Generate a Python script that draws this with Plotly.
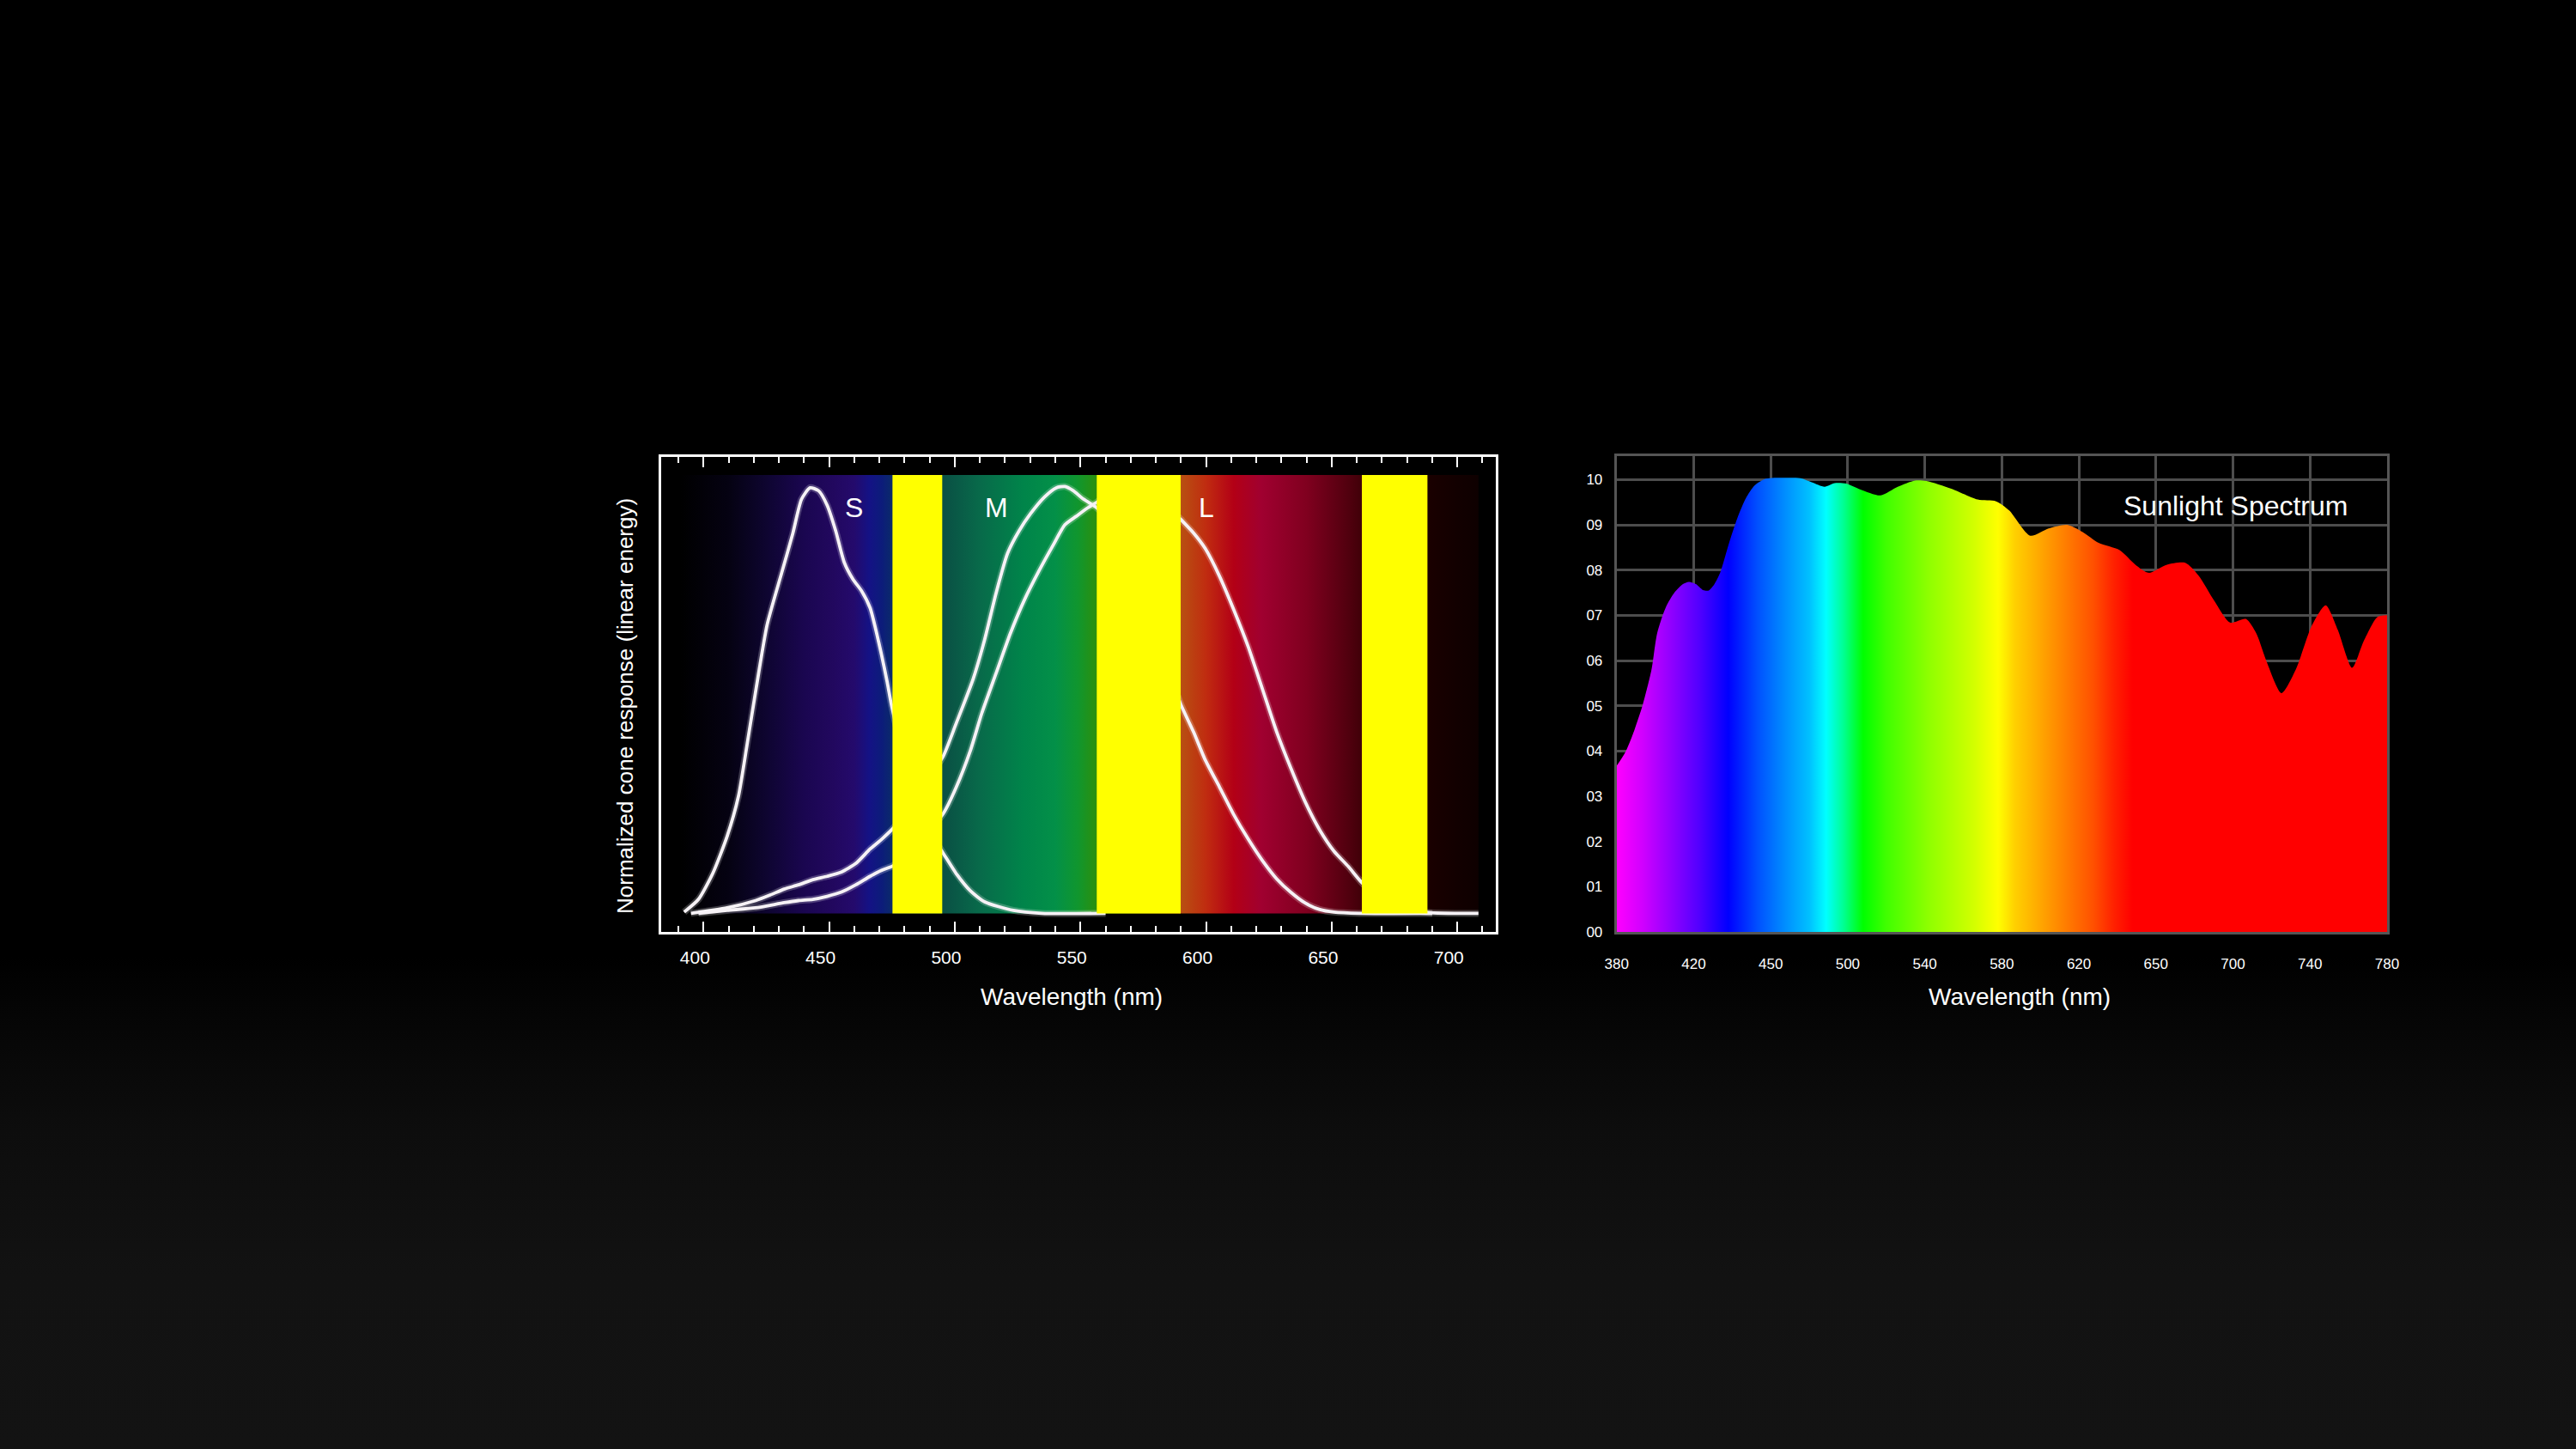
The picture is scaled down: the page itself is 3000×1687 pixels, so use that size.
import plotly.graph_objects as go

# ---------------- Left chart: normalized cone responses ----------------
s_nm = [392.3, 398, 403.7, 409.4, 413.9, 417.3, 421, 425.3, 431, 435.5, 439, 442.4, 445.8,
        449.2, 452.6, 456, 459.5, 462.9, 466.3, 469.7, 473.1, 474.8, 480, 485, 490, 495.4,
        500.5, 506.2, 511.9, 523.3, 534.6, 560]
s_resp = [0.003, 0.033, 0.094, 0.181, 0.275, 0.395, 0.53, 0.677, 0.797, 0.891, 0.972, 0.999, 0.992,
          0.958, 0.898, 0.824, 0.784, 0.757, 0.717, 0.637, 0.543, 0.489, 0.36, 0.26, 0.19, 0.141,
          0.094, 0.053, 0.027, 0.007, 0.0, 0.0]

m_nm = [395, 409.4, 420.7, 426.5, 432.1, 437.8, 443.5, 449.2, 454.9, 460.6, 466.3, 470.9, 475.2,
        480, 485, 490, 495.4, 500.5, 507.3, 511.9, 516.4, 521, 525.6, 530.1, 535.8, 540.4,
        543.8, 547.2, 550.6, 554, 556.5, 560, 565, 570, 575, 580, 585, 589.9, 595, 599.6, 605.3,
        611, 616.7, 622.4, 628.1, 633.8, 639.5, 645.2, 650.9, 661, 690]
m_resp = [0.0, 0.013, 0.030, 0.043, 0.057, 0.067, 0.079, 0.087, 0.097, 0.117, 0.151, 0.174, 0.198,
          0.23, 0.27, 0.32, 0.369, 0.445, 0.55, 0.643, 0.751, 0.845, 0.898, 0.938, 0.978, 0.999,
          1.002, 0.992, 0.975, 0.962, 0.952, 0.93, 0.88, 0.81, 0.73, 0.65, 0.57, 0.491, 0.426, 0.361, 0.297,
          0.232, 0.175, 0.124, 0.081, 0.049, 0.024, 0.009, 0.003, 0.0, 0.0]

l_nm = [398, 409.4, 420.7, 432.1, 437.8, 443.5, 449.2, 454.9, 460.6, 466.3, 470.9, 475.2, 480, 485,
        490, 495.4, 500.5, 506.2, 510.7, 516.4, 522.1, 527.8, 533.5, 539.2, 543.8, 548.3, 552.9, 556.5,
        560, 565, 570, 575, 580, 585, 589.9, 595, 599.6, 605.3, 611, 616.7, 622.4, 628.1, 633.8, 639.5,
        645.2, 650.9, 656.6, 661.7, 668, 675, 688.4, 708.4]
l_resp = [0.0, 0.007, 0.013, 0.025, 0.030, 0.033, 0.040, 0.050, 0.067, 0.087, 0.101, 0.111, 0.13, 0.16,
          0.195, 0.234, 0.295, 0.382, 0.469, 0.563, 0.657, 0.737, 0.804, 0.865, 0.912, 0.932, 0.952, 0.965,
          0.98, 0.995, 1.0, 0.995, 0.98, 0.955, 0.925, 0.893, 0.857, 0.792, 0.713, 0.627, 0.527, 0.426, 0.340,
          0.261, 0.196, 0.146, 0.110, 0.074, 0.04, 0.018, 0.002, 0.0]

cone_labels = ["S", "M", "L"]
cone_label_nm = [460.0, 516.5, 600.1]
yellow_bands_nm = [(475.2, 495.0), (556.5, 589.9), (662.0, 688.1)]
band_range_nm = (391.0, 708.4)
cone_tick_start, cone_tick_step = 400, 50

# ---------------- Right chart: sunlight spectrum ----------------
sun_tick_labels = ["380", "420", "450", "500", "540", "580", "620", "650", "700", "740", "780"]
sun_ytick_labels = ["00", "01", "02", "03", "04", "05", "06", "07", "08", "09", "10"]
sun_pos = [0.0, 0.118, 0.23, 0.341, 0.452, 0.527, 0.639, 0.75, 0.861, 0.936, 1.029, 1.121, 1.196,
           1.27, 1.344, 1.456, 1.567, 1.678, 1.79, 1.939, 2.162, 2.385, 2.533, 2.70, 2.83, 2.979,
           3.165, 3.425, 3.648, 3.871, 4.02, 4.344, 4.686, 4.925, 5.095, 5.369, 5.607, 5.846, 6.05,
           6.256, 6.529, 6.733, 6.904, 7.143, 7.381, 7.552, 7.757, 7.962, 8.167, 8.303, 8.44, 8.63,
           8.815, 9.02, 9.203, 9.36, 9.545, 9.70, 9.873, 10.0]
sun_val = [0.367, 0.399, 0.446, 0.503, 0.579, 0.661, 0.718, 0.750, 0.769, 0.774, 0.769, 0.756, 0.755,
           0.769, 0.794, 0.858, 0.915, 0.959, 0.987, 1.002, 1.004, 1.003, 0.994, 0.984, 0.992, 0.991,
           0.978, 0.965, 0.984, 0.998, 0.997, 0.980, 0.956, 0.952, 0.932, 0.876, 0.892, 0.900, 0.884,
           0.860, 0.844, 0.812, 0.794, 0.812, 0.816, 0.788, 0.732, 0.684, 0.692, 0.660, 0.596, 0.528,
           0.580, 0.676, 0.722, 0.668, 0.584, 0.644, 0.696, 0.700]

# ---------------- Styles / page geometry ----------------
FONT = "Liberation Sans, Arial, Helvetica, sans-serif"
W, H = 3000, 1687


def px(xp):   # page pixel -> paper x
    return xp / W


def py(yp):   # page pixel -> paper y
    return 1 - yp / H


band_stops = [(391, "#000000"), (410, "#050212"), (425, "#0e0530"), (440, "#1a0650"),
              (452, "#22085f"), (460, "#240a6c"), (466, "#141285"), (471, "#0c1c7a"),
              (475, "#0a2a6a"), (495, "#0a4f44"), (510, "#086a4a"), (527, "#00844a"),
              (540, "#039048"), (549, "#10962e"), (556, "#2a9010"), (590, "#b85012"),
              (600, "#c02c10"), (611, "#b30016"), (622, "#a00030"), (640, "#80001f"),
              (657, "#50000e"), (662, "#400008"), (688, "#1a0000"), (700, "#120000"),
              (708.4, "#0e0000")]
b0, b1 = band_range_nm
band_scale = [[(nm - b0) / (b1 - b0), c] for nm, c in band_stops]

rainbow_stops = [(0.0, "#ff00ff"), (0.34, "#d000ff"), (0.71, "#9000ff"), (1.08, "#5000ff"),
                 (1.45, "#0000ff"), (1.83, "#0050ff"), (2.2, "#0090ff"), (2.5, "#00c0ff"),
                 (2.72, "#00ffff"), (2.95, "#00ff90"), (3.2, "#00ff00"), (3.5, "#40ff00"),
                 (4.06, "#90ff00"), (4.62, "#d0ff00"), (4.95, "#ffff00"), (5.17, "#ffd000"),
                 (5.55, "#ffa000"), (6.19, "#ff5000"), (6.46, "#ff2000"), (6.7, "#ff0000"),
                 (10.0, "#ff0000")]
rainbow_scale = [[p / 10.0, c] for p, c in rainbow_stops]

bg_scale = [[0.0, "#131313"], [0.12, "#121212"], [0.22, "#0d0d0d"], [0.3, "#050505"],
            [0.34, "#000000"], [1.0, "#000000"]]

fig = go.Figure()

# page background gradient
fig.add_trace(go.Scatter(x=[0, 1, 1, 0, 0], y=[0, 0, 1, 1, 0], fill="toself", mode="none",
                         fillgradient=dict(type="vertical", colorscale=bg_scale, start=0, stop=1),
                         xaxis="x", yaxis="y", hoverinfo="skip", showlegend=False))

# spectrum band behind cone curves
band_top = 1.029
fig.add_trace(go.Scatter(x=[b0, b1, b1, b0, b0], y=[0, 0, band_top, band_top, 0], fill="toself",
                         mode="none",
                         fillgradient=dict(type="horizontal", colorscale=band_scale, start=b0, stop=b1),
                         xaxis="x2", yaxis="y2", hoverinfo="skip", showlegend=False))

# cone curves (glow + line)
for xs, ys in [(s_nm, s_resp), (m_nm, m_resp), (l_nm, l_resp)]:
    fig.add_trace(go.Scatter(x=xs, y=ys, mode="lines", xaxis="x2", yaxis="y2",
                             line=dict(color="rgba(255,255,255,0.22)", width=8, shape="spline", smoothing=0.6),
                             hoverinfo="skip", showlegend=False))
    fig.add_trace(go.Scatter(x=xs, y=ys, mode="lines", xaxis="x2", yaxis="y2",
                             line=dict(color="#f6f2f6", width=3.8, shape="spline", smoothing=0.6),
                             showlegend=False))

# yellow bars on top of the curves
for a, b in yellow_bands_nm:
    fig.add_trace(go.Scatter(x=[a, b, b, a, a], y=[0, 0, band_top, band_top, 0], fill="toself",
                             mode="none", fillcolor="#ffff00", xaxis="x2", yaxis="y2",
                             hoverinfo="skip", showlegend=False))

# sunlight spectrum with rainbow gradient fill
fig.add_trace(go.Scatter(x=sun_pos, y=sun_val, mode="lines", fill="tozeroy",
                         line=dict(width=0, shape="spline", smoothing=0.7),
                         fillgradient=dict(type="horizontal", colorscale=rainbow_scale, start=0, stop=10),
                         xaxis="x3", yaxis="y3", showlegend=False))

annotations = []
for lab, nm in zip(cone_labels, cone_label_nm):
    annotations.append(dict(x=nm, y=0.952, xref="x2", yref="y2", text=lab, showarrow=False,
                            xanchor="center", yanchor="middle",
                            font=dict(family=FONT, size=32, color="white")))
annotations.append(dict(x=8.03, y=0.942, xref="x3", yref="y3", text="Sunlight Spectrum",
                        showarrow=False, xanchor="center", yanchor="middle",
                        font=dict(family=FONT, size=32, color="white")))
annotations.append(dict(x=px(1247.5), y=py(1160), xref="paper", yref="paper",
                        text="Wavelength (nm)", showarrow=False, xanchor="center", yanchor="middle",
                        font=dict(family=FONT, size=28, color="white")))
annotations.append(dict(x=px(2351.5), y=py(1160), xref="paper", yref="paper",
                        text="Wavelength (nm)", showarrow=False, xanchor="center", yanchor="middle",
                        font=dict(family=FONT, size=28, color="white")))
annotations.append(dict(x=px(728), y=py(822), xref="paper", yref="paper",
                        text="Normalized cone response (linear energy)", textangle=-90,
                        showarrow=False, xanchor="center", yanchor="middle",
                        font=dict(family=FONT, size=26, color="white")))

hidden = dict(domain=[0, 1], range=[0, 1], visible=False, fixedrange=True, automargin=False)

fig.update_layout(
    width=W, height=H, margin=dict(l=0, r=0, t=0, b=0, autoexpand=False),
    paper_bgcolor="black", plot_bgcolor="black", showlegend=False,
    font=dict(family=FONT, color="white"),
    xaxis=dict(hidden, anchor="y"),
    yaxis=dict(hidden, anchor="x"),
    xaxis2=dict(domain=[px(770), px(1742)], anchor="y2", range=[383.15, 715.3], automargin=False,
                showgrid=False, zeroline=False, showline=True, linecolor="white", linewidth=3,
                mirror="ticks", ticks="inside", tickcolor="white", tickwidth=2, ticklen=12,
                tickmode="linear", tick0=cone_tick_start, dtick=cone_tick_step,
                tickfont=dict(family=FONT, size=21, color="white"), ticklabelshift=-10,
                ticklabelstandoff=9,
                minor=dict(tickmode="linear", tick0=cone_tick_start, dtick=10, ticks="inside",
                           ticklen=7, tickcolor="white", tickwidth=2, showgrid=False),
                fixedrange=True),
    yaxis2=dict(domain=[py(1085), py(531.7)], anchor="x2", range=[-0.0436, 1.072], automargin=False,
                showgrid=False, zeroline=False, showline=True, linecolor="white", linewidth=3,
                mirror=True, showticklabels=False, ticks="", fixedrange=True),
    xaxis3=dict(domain=[px(1882.7), px(2780)], anchor="y3", range=[0, 10], automargin=False,
                tickmode="array", tickvals=list(range(11)), ticktext=sun_tick_labels,
                showgrid=True, gridcolor="#4d4d4d", gridwidth=3, zeroline=False,
                showline=True, linecolor="#555555", linewidth=3, mirror=True, ticks="",
                tickfont=dict(family=FONT, size=17, color="white"), ticklabelstandoff=20,
                fixedrange=True),
    yaxis3=dict(domain=[py(1085), py(531)], anchor="x3", range=[0, 1.052], automargin=False,
                tickmode="array", tickvals=[i / 10 for i in range(11)], ticktext=sun_ytick_labels,
                showgrid=True, gridcolor="#4d4d4d", gridwidth=3, zeroline=False,
                showline=True, linecolor="#555555", linewidth=3, mirror=True, ticks="",
                tickfont=dict(family=FONT, size=17, color="white"), ticklabelstandoff=10,
                fixedrange=True),
    annotations=annotations,
)

fig.write_html("out.html", config={"displayModeBar": False},
               post_script="document.body.style.margin='0';document.body.style.overflow='hidden';")
